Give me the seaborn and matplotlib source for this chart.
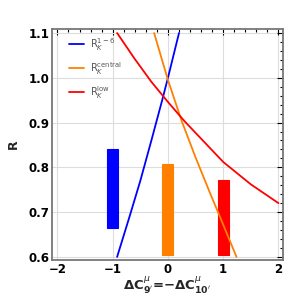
import numpy as np
import pandas as pd
import seaborn as sns
import matplotlib.pyplot as plt
from matplotlib.ticker import MultipleLocator

# vertical bands (measured ranges)
band_x = [-1, 0, 1]
band_lo = [0.665, 0.605, 0.605]
band_hi = [0.840, 0.807, 0.771]
band_colors = ['#0000ff', '#ff8000', '#ff0000']

# theory curves
x_16 = [-0.92, -0.7, -0.5, -0.3, -0.1, 0.0, 0.1, 0.2]
y_16 = [0.600, 0.688, 0.770, 0.860, 0.952, 1.000, 1.050, 1.100]
x_central = [-0.25, 0.0, 0.25, 0.5, 0.75, 1.0, 1.24]
y_central = [1.100, 0.995, 0.903, 0.822, 0.746, 0.672, 0.600]
x_low = [-0.92, -0.6, -0.3, 0.0, 0.3, 0.6, 1.0, 1.5, 2.0]
y_low = [1.100, 1.042, 0.991, 0.946, 0.903, 0.864, 0.812, 0.762, 0.720]

labels = [r'$\mathrm{R}_K^{1-6}$', r'$\mathrm{R}_K^{\mathrm{central}}$', r'$\mathrm{R}_K^{\mathrm{low}}$']

df = pd.concat([
    pd.DataFrame({'x': x_16, 'y': y_16, 'curve': labels[0]}),
    pd.DataFrame({'x': x_central, 'y': y_central, 'curve': labels[1]}),
    pd.DataFrame({'x': x_low, 'y': y_low, 'curve': labels[2]}),
])

sns.set_theme(style="white")
plt.rcParams['font.family'] = ['DejaVu Sans']

fig = plt.figure(figsize=(3.0, 3.02), dpi=100)
ax = fig.add_axes([0.173, 0.139, 0.770, 0.765])

ax.bar(band_x, np.array(band_hi) - np.array(band_lo), bottom=band_lo,
       width=0.2, color=band_colors, edgecolor=band_colors, linewidth=0.8, zorder=2)

sns.lineplot(data=df, x='x', y='y', hue='curve', palette=band_colors,
             sort=False, estimator=None, linewidth=1.3, ax=ax, zorder=3)

ax.set_xlim(-2.1, 2.08)
ax.set_ylim(0.593, 1.109)
ax.xaxis.set_minor_locator(MultipleLocator(0.2))
ax.yaxis.set_minor_locator(MultipleLocator(0.02))
ax.grid(True, which='major', color='#dddddd', linewidth=0.8, zorder=0)
ax.set_axisbelow(True)

ax.tick_params(which='both', direction='in', top=True, right=True,
               labelsize=8.5, colors='black', width=0.8, pad=2)
ax.tick_params(which='major', length=4)
ax.tick_params(which='minor', length=2)
ax.set_xticks([-2, -1, 0, 1, 2])
ax.set_xticklabels(['\u22122', '\u22121', '0', '1', '2'], fontweight='bold')
ax.set_yticks([0.6, 0.7, 0.8, 0.9, 1.0, 1.1])
ax.set_yticklabels(['0.6', '0.7', '0.8', '0.9', '1.0', '1.1'], fontweight='bold')

for sp in ax.spines.values():
    sp.set_color('#777777')
    sp.set_linewidth(1.3)

ax.set_ylabel('R', fontsize=9, fontweight='bold', labelpad=6)
ax.set_xlabel(r"$\mathbf{\Delta C}^{\mu}_{\mathbf{9'}}$=$\mathbf{-\Delta C}^{\mu}_{\mathbf{10'}}$",
              fontsize=9.5, fontweight='bold', labelpad=0)

leg = ax.legend(loc='upper left', frameon=False, fontsize=7, handlelength=1.5,
                handletextpad=0.6, labelspacing=0.75, borderaxespad=0.3,
                bbox_to_anchor=(0.045, 1.0))
leg.set_title('')
for t in leg.get_texts():
    t.set_color('#555555')

plt.savefig('out.png', dpi=100)
